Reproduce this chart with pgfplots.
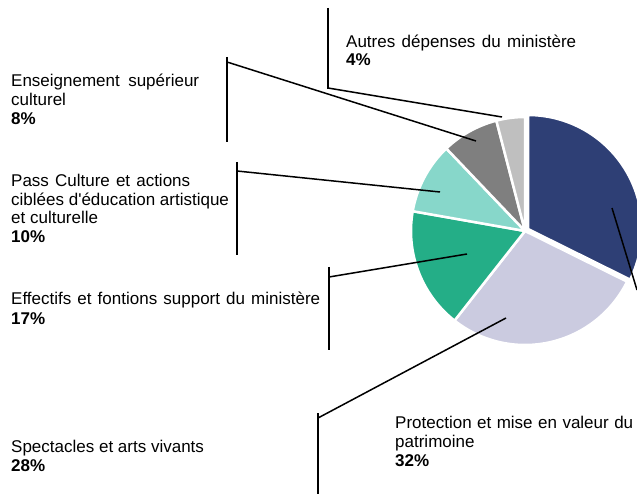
\documentclass[border=0pt]{standalone}
\usepackage{fontspec}
\setmainfont{Liberation Sans}
\usepackage{pgfplots}
\pgfplotsset{compat=1.18}
\definecolor{cNavy}{HTML}{2E3F75}
\definecolor{cLav}{HTML}{CBCBE0}
\definecolor{cGreen}{HTML}{24AE87}
\definecolor{cTeal}{HTML}{87D7CA}
\definecolor{cGrey}{HTML}{7F7F7F}
\definecolor{cLGrey}{HTML}{BFBFBF}
% shares (%): Protection 32, Spectacles 28, Effectifs 17, Pass Culture 10, Enseignement 8, Autres 4
\def\vA{32}\def\vB{28}\def\vC{17}\def\vD{10}\def\vE{8}\def\vF{4}
\pgfmathsetmacro\tot{\vA+\vB+\vC+\vD+\vE+\vF}
\pgfmathsetmacro\aA{90}
\pgfmathsetmacro\aB{\aA-360*\vA/\tot}
\pgfmathsetmacro\aC{\aB-360*\vB/\tot}
\pgfmathsetmacro\aD{\aC-360*\vC/\tot}
\pgfmathsetmacro\aE{\aD-360*\vD/\tot}
\pgfmathsetmacro\aF{\aE-360*\vE/\tot}
\pgfmathsetmacro\aG{\aF-360*\vF/\tot}
\newcommand\slice[5]{% end start color cx cy
\addplot[fill=#3, draw=white, line width=2.5pt, line join=round, domain=#1:#2, samples=60]
 ({#4+114*cos(x)},{#5-114*sin(x)}) -- (axis cs:#4,#5) -- cycle;}
\newcommand\lab[3]{\node[anchor=base west, inner sep=0pt, font=\fontsize{17}{19}\selectfont] at (axis cs:#1,#2) {#3};}
\newcommand\slab[4]{\node[anchor=base west, inner sep=0pt, font=\fontsize{17}{19}\selectfont] at (axis cs:#1,#2) {\makebox[#3pt][s]{#4}};}
\begin{document}
\begin{tikzpicture}
\useasboundingbox (0,0) rectangle (637pt,494pt);
\begin{axis}[
  at={(0,0)}, anchor=south west,
  width=637pt, height=494pt, scale only axis,
  xmin=0, xmax=637, ymin=0, ymax=494, y dir=reverse,
  hide axis, clip=true]
\slice{\aB}{\aA}{cNavy}{528}{229}
\slice{\aC}{\aB}{cLav}{525}{231}
\slice{\aD}{\aC}{cGreen}{525}{231}
\slice{\aE}{\aD}{cTeal}{525}{231}
\slice{\aF}{\aE}{cGrey}{525}{231}
\slice{\aG}{\aF}{cLGrey}{525}{231}
% leader lines
\addplot[black, line width=1.5pt] coordinates {(328,8) (328,89)};
\addplot[black, line width=1.5pt] coordinates {(328,88) (502,117)};
\addplot[black, line width=1.5pt] coordinates {(227,57) (227,142)};
\addplot[black, line width=1.5pt] coordinates {(227,62) (476,141)};
\addplot[black, line width=1.5pt] coordinates {(237,162) (237,255)};
\addplot[black, line width=1.5pt] coordinates {(237,171) (440,192)};
\addplot[black, line width=1.5pt] coordinates {(329,267) (329,350)};
\addplot[black, line width=1.5pt] coordinates {(329,277) (467,254)};
\addplot[black, line width=1.5pt] coordinates {(318,413) (318,494)};
\addplot[black, line width=1.5pt] coordinates {(318,418) (506,318)};
\addplot[black, line width=1.5pt] coordinates {(612,208) (637,290)};
% labels
\slab{346}{48}{230}{Autres dépenses du ministère}
\lab{346}{66}{\textbf{4\%}}
\slab{11}{87}{188}{Enseignement supérieur}
\lab{11}{106}{culturel}
\lab{11}{125}{\textbf{8\%}}
\slab{11}{187}{179}{Pass Culture et actions}
\lab{11}{206}{ciblées d\textquotesingle éducation artistique}
\lab{11}{224}{et culturelle}
\lab{11}{243}{\textbf{10\%}}
\slab{11}{305}{309}{Effectifs et fontions support du ministère}
\lab{11}{324}{\textbf{17\%}}
\lab{11}{452}{Spectacles et arts vivants}
\lab{11}{471}{\textbf{28\%}}
\slab{395}{428}{238}{Protection et mise en valeur du}
\lab{395}{447}{patrimoine}
\lab{395}{466}{\textbf{32\%}}
\end{axis}
\end{tikzpicture}
\end{document}
